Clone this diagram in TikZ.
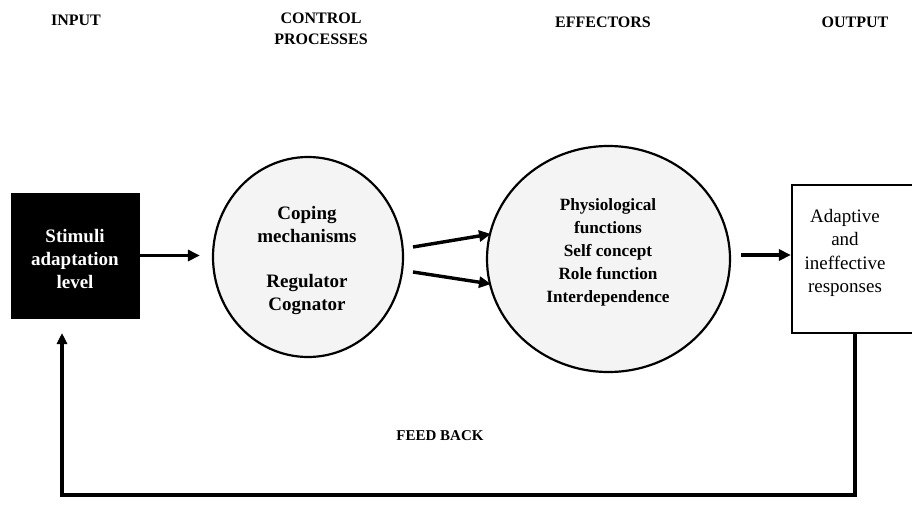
\documentclass[tikz,border=0pt]{standalone}
\usepackage{fontspec}
\setmainfont{Liberation Serif}
\usetikzlibrary{shapes.geometric,arrows.meta}
\definecolor{ballfill}{HTML}{F4F4F4}
\tikzset{
  heading/.style={font=\bfseries\fontsize{16}{21}\selectfont, align=center},
  body/.style={font=\bfseries\fontsize{17.2}{23}\selectfont, align=center},
  ball/.style={ellipse, draw=black, line width=2.2pt, fill=ballfill, inner sep=0pt},
  arr/.style={line width=3.4pt, -{Triangle[length=12pt,width=11pt]}},
  fbline/.style={line width=3.4pt, -{Triangle[length=11pt,width=10pt]}},
}
\begin{document}
\begin{tikzpicture}[x=1pt,y=-1pt]
\useasboundingbox (0,0) rectangle (912,512);
\fill[white] (0,0) rectangle (912,512);

% column headings
\node[heading] (hin)  at (76,20) {INPUT};
\node[heading] (hctl) at (321,29) {CONTROL\\PROCESSES};
\node[heading] (heff) at (603,22) {EFFECTORS};
\node[heading] (hout) at (855,22) {OUTPUT};

% input block
\node[draw=black, fill=black, minimum width=128pt, minimum height=125pt, inner sep=0pt] (in) at (75,255.5) {};
\node[body, font=\bfseries\fontsize{19}{23}\selectfont, text=white] (intxt) at (75,258.5) {Stimuli\\adaptation\\level};

% control processes
\node[ball, minimum width=190pt, minimum height=200pt] (ctl) at (308,257) {};
\node[body, font=\bfseries\fontsize{19}{23}\selectfont] (ctltxt) at (307,260) {Coping\\mechanisms\\[22pt]Regulator\\Cognator};

% effectors
\node[ball, minimum width=243pt, minimum height=226pt] (eff) at (608.5,259) {};
\node[body] (efftxt) at (608,252) {Physiological\\functions\\Self concept\\Role function\\Interdependence};

% output block
\node[draw=black, line width=2.2pt, fill=white, minimum width=126pt, minimum height=148pt,
      inner sep=0pt] (out) at (855,259) {};
\node[body, font=\fontsize{19}{23.5}\selectfont] (outtxt) at (845,253) {Adaptive\\and\\ineffective\\responses};

% forward arrows
\coordinate (c1s) at (413,247);
\coordinate (c1e) at (491,234);
\coordinate (c2s) at (413,272);
\coordinate (c2e) at (491,284);
\draw[arr] (in.east) -- ([xshift=-12pt]ctl.west |- in.east);
\draw[arr] (c1s) -- (c1e);
\draw[arr] (c2s) -- (c2e);
\draw[arr] ([shift={(10pt,4pt)}]eff.east) -- ([yshift=4pt]out.west);

% feedback loop
\coordinate (fbR) at (855,495);
\coordinate (fbL) at (62,495);
\coordinate (fbTip) at (62,333);
\draw[fbline] (out.south) -- (fbR) -- (fbL) -- (fbTip);
\node[heading, font=\bfseries\fontsize{15}{18}\selectfont] (fb) at (440,436) {FEED BACK};
\end{tikzpicture}
\end{document}
